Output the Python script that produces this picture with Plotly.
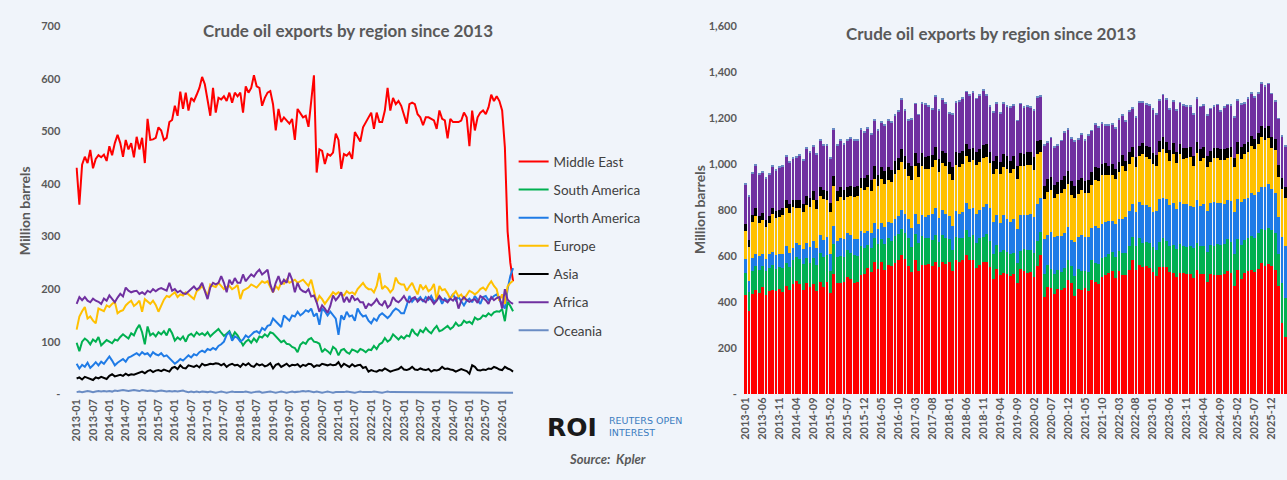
import plotly.graph_objects as go

# ---------------- data ----------------
months = [f"{y}-{m:02d}" for y in range(2013, 2027) for m in range(1, 13)][:161]

middle_east = [
    431, 361, 437, 452, 440, 465, 430, 448, 455, 451, 456, 444,
    472, 455, 478, 494, 478, 452, 484, 466, 478, 451, 490, 466,
    488, 440, 524, 484, 485, 488, 508, 502, 484, 488, 518, 522,
    549, 530, 576, 543, 574, 540, 564, 558, 570, 583, 604, 590,
    560, 530, 583, 536, 564, 561, 567, 558, 574, 555, 574, 567,
    574, 536, 586, 574, 583, 607, 586, 583, 549, 564, 574, 577,
    552, 502, 543, 518, 527, 521, 515, 524, 484, 543, 536, 527,
    530, 509, 558, 607, 422, 466, 463, 438, 457, 454, 460, 496,
    484, 429, 457, 454, 460, 448, 499, 490, 481, 508, 518, 527,
    536, 505, 536, 518, 518, 540, 583, 540, 564, 552, 558, 549,
    533, 515, 552, 555, 552, 533, 527, 512, 527, 527, 524, 521,
    505, 540, 524, 521, 487, 524, 518, 518, 518, 521, 536, 527,
    472, 540, 502, 527, 536, 540, 533, 546, 570, 558, 567, 558,
    540, 470, 310, 250, 215,
]
south_america = [
    98, 82, 100, 106, 102, 95, 104, 100, 109, 93, 98, 103,
    100, 97, 104, 102, 109, 114, 110, 106, 116, 112, 124, 132,
    118, 95, 129, 112, 116, 110, 118, 114, 120, 112, 125, 116,
    102, 108, 104, 110, 100, 112, 115, 110, 118, 113, 116, 112,
    118, 110, 115, 120, 124, 117, 111, 115, 120, 108, 118, 112,
    102, 93, 100, 104, 98, 106, 100, 110, 108, 114, 110, 118,
    116, 110, 105, 99, 102, 96, 95, 90, 88, 80, 94, 99,
    96, 104, 107, 100, 99, 96, 80, 86, 82, 77, 90, 86,
    74, 84, 86, 80, 77, 85, 83, 80, 86, 84, 80, 85,
    84, 92, 86, 95, 98, 107, 100, 104, 114, 108, 104, 110,
    106, 112, 110, 124, 116, 112, 122, 118, 126, 120, 116, 124,
    130, 120, 122, 126, 130, 124, 128, 136, 130, 132, 140, 136,
    138, 134, 146, 142, 144, 150, 148, 154, 150, 156, 158, 157,
    162, 139, 176, 168, 158,
]
north_america = [
    58, 49, 56, 52, 60, 50, 55, 61, 55, 62, 58, 65,
    72, 64, 55, 60, 63, 67, 62, 70, 72, 75, 78, 74,
    80, 76, 78, 72, 80, 76, 74, 78, 72, 74, 68, 62,
    58, 62, 67, 64, 70, 74, 70, 76, 74, 80, 83, 80,
    86, 84, 88, 85, 92, 95, 100, 113, 118, 102, 110, 107,
    100, 104, 112, 108, 113, 118, 120, 116, 126, 122, 130, 132,
    144, 139, 132, 128, 150, 144, 140, 150, 148, 157, 150, 154,
    160, 157, 163, 148, 154, 132, 163, 158, 150, 157, 150, 144,
    113, 150, 142, 157, 148, 150, 140, 163, 154, 148, 150, 140,
    135, 144, 140, 150, 154, 150, 145, 150, 158, 163, 160, 154,
    154, 169, 187, 176, 182, 180, 185, 176, 185, 180, 187, 176,
    180, 185, 172, 182, 178, 182, 191, 179, 185, 176, 169, 178,
    182, 175, 187, 180, 172, 185, 187, 179, 182, 187, 190, 180,
    172, 163, 200, 225, 240,
]
europe = [
    123, 148, 158, 166, 144, 148, 140, 135, 163, 160, 158, 169,
    166, 172, 176, 154, 158, 160, 169, 174, 178, 168, 172, 178,
    157, 181, 176, 172, 178, 170, 157, 169, 180, 187, 185, 190,
    194, 185, 190, 188, 194, 190, 185, 181, 196, 200, 206, 198,
    187, 209, 206, 204, 212, 206, 200, 204, 206, 200, 203, 208,
    181, 197, 200, 203, 209, 206, 203, 209, 215, 212, 215, 204,
    194, 206, 200, 212, 210, 218, 212, 215, 218, 212, 215, 218,
    212, 206, 218, 197, 175, 187, 181, 172, 180, 187, 194, 190,
    194, 190, 188, 196, 192, 194, 190, 200, 206, 212, 204, 200,
    200, 194, 206, 231, 200, 206, 202, 194, 200, 222, 212, 209,
    209, 197, 205, 212, 200, 190, 209, 200, 206, 196, 200, 210,
    178, 206, 198, 200, 192, 181, 190, 196, 186, 190, 181, 190,
    197, 194, 190, 194, 200, 203, 198, 208, 215, 206, 200, 178,
    190, 172, 205, 212, 216,
]
asia = [
    30, 32, 28, 33, 31, 29, 27, 32, 30, 33, 31, 29,
    35, 38, 34, 36, 37, 35, 39, 36, 38, 37, 39, 40,
    43, 40, 44, 46, 42, 45, 46, 44, 47, 45, 43, 50,
    52, 48, 55, 50, 49, 55, 53, 52, 55, 51, 58, 55,
    56, 58, 57, 59, 58, 55, 58, 52, 56, 58, 55, 56,
    52, 58, 55, 59, 54, 52, 58, 55, 57, 53, 55, 59,
    49, 56, 58, 52, 55, 58, 53, 56, 55, 57, 52, 56,
    54, 58, 57, 52, 55, 54, 58, 56, 55, 57, 55, 56,
    61, 52, 58, 55, 52, 57, 53, 55, 56, 50, 52, 43,
    46, 44, 43, 46, 45, 49, 46, 43, 45, 46, 48, 52,
    47, 46, 48, 52, 47, 46, 49, 47, 46, 48, 43, 46,
    45, 47, 52, 48, 49, 47, 46, 43, 46, 48, 46, 44,
    39, 55, 52, 46, 45, 47, 46, 49, 48, 52, 50, 47,
    46, 52, 49, 47, 43,
]
africa = [
    172, 185, 179, 185, 178, 175, 182, 178, 176, 172, 182, 178,
    188, 182, 175, 184, 191, 186, 203, 197, 194, 196, 197, 191,
    194, 190, 197, 194, 200, 196, 200, 202, 200, 197, 212, 197,
    200, 194, 197, 192, 191, 196, 200, 205, 199, 203, 212, 197,
    181, 203, 212, 209, 212, 225, 212, 194, 218, 209, 221, 212,
    212, 228, 215, 222, 228, 224, 232, 237, 228, 232, 237, 209,
    194, 212, 225, 209, 218, 212, 231, 218, 194, 212, 200, 196,
    194, 200, 186, 188, 175, 157, 169, 163, 155, 168, 188, 179,
    185, 194, 175, 185, 175, 188, 179, 182, 175, 175, 163, 172,
    169, 174, 181, 172, 169, 178, 165, 170, 185, 178, 175, 180,
    187, 178, 175, 182, 185, 176, 181, 179, 175, 185, 180, 172,
    178, 187, 180, 179, 175, 182, 178, 185, 163, 178, 185, 179,
    176, 179, 181, 174, 187, 183, 179, 172, 185, 179, 183, 185,
    163, 200, 180, 175, 172,
]
oceania = [
    4, 5, 4, 5, 6, 5, 4, 5, 6, 5, 6, 5,
    6, 5, 7, 6, 7, 8, 7, 6, 7, 8, 7, 6,
    8, 7, 6, 7, 6, 5, 6, 7, 6, 5, 6, 5,
    6, 5, 6, 7, 5, 4, 5, 4, 5, 4, 5, 4,
    4, 5, 4, 3, 4, 5, 4, 3, 4, 5, 4, 4,
    3, 4, 5, 4, 3, 4, 4, 5, 3, 4, 4, 5,
    4, 3, 4, 5, 4, 3, 4, 5, 4, 4, 5, 6,
    5, 6, 5, 4, 5, 4, 3, 4, 5, 4, 3, 4,
    4, 3, 4, 5, 4, 4, 3, 4, 5, 4, 4, 3,
    4, 5, 4, 4, 3, 4, 5, 4, 4, 3, 4, 4,
    3, 4, 4, 3, 4, 3, 4, 4, 3, 4, 3, 3,
    4, 3, 3, 4, 3, 3, 4, 3, 3, 4, 3, 3,
    3, 3, 4, 3, 3, 4, 3, 3, 4, 3, 3, 3,
    3, 3, 3, 3, 3,
]

series_names = ["Middle East", "South America", "North America", "Europe",
                "Asia", "Africa", "Oceania"]
series_values = [middle_east, south_america, north_america, europe,
                 asia, africa, oceania]
series_colors = ["#FF0000", "#00B050", "#1F7BE6", "#FFC000",
                 "#000000", "#7030A0", "#6A8CC4"]

left_xticks = months[::6]
right_xticks = months[::5]
left_yticks = [0, 100, 200, 300, 400, 500, 600, 700]
left_yticktext = ["-", "100", "200", "300", "400", "500", "600", "700"]
right_yticks = [0, 200, 400, 600, 800, 1000, 1200, 1400, 1600]
right_yticktext = ["-", "200", "400", "600", "800", "1,000", "1,200", "1,400", "1,600"]

title_text = "Crude oil exports by region since 2013"

for v in series_values:
    assert len(v) == len(months)

# ---------------- figure ----------------
W, H = 1287, 480
BG = "#F0F4FA"
FONT = "Lato, 'Open Sans', sans-serif"
GREY = "#595959"

fig = go.Figure()

for i, (name, vals, col) in enumerate(zip(series_names, series_values, series_colors)):
    fig.add_trace(go.Scatter(
        x=months, y=vals, name=name, mode="lines",
        line=dict(color=col, width=2), legendgroup=f"g{i}",
        xaxis="x", yaxis="y"))

for i, (name, vals, col) in enumerate(zip(series_names, series_values, series_colors)):
    fig.add_trace(go.Bar(
        x=months, y=vals, name=name, marker=dict(color=col, line=dict(width=0)),
        legendgroup=f"g{i}", showlegend=False, xaxis="x2", yaxis="y2"))

px_unit_left = 378 / 700
y_bottom_left = (H - (398 + 3 * px_unit_left)) / H
y_top = (H - 20) / H
y_bottom_right = (H - 398) / H

tickfont = dict(family=FONT, size=11, color=GREY, weight="bold")

fig.update_layout(
    width=W, height=H, autosize=False,
    margin=dict(l=0, r=0, t=0, b=0),
    paper_bgcolor=BG, plot_bgcolor=BG,
    barmode="stack", bargap=0.18,
    font=dict(family=FONT, color=GREY),
    showlegend=True,
    legend=dict(x=510 / W, y=1 - 143 / H, xanchor="left", yanchor="top",
                bgcolor="rgba(0,0,0,0)", itemwidth=30, tracegroupgap=7.6,
                font=dict(family=FONT, size=13.5, color="#404040")),
    xaxis=dict(domain=[69.6 / W, 510.8 / W], type="category",
               range=[-0.5, 160.5], tickmode="array", tickvals=left_xticks,
               tickangle=-90, showgrid=False, zeroline=False, showline=False,
               ticks="", tickfont=tickfont, anchor="y", fixedrange=True),
    yaxis=dict(domain=[y_bottom_left, y_top], range=[-3, 700],
               tickmode="array", tickvals=left_yticks, ticktext=left_yticktext,
               showgrid=False, zeroline=False, showline=False, ticks="",
               ticklabelstandoff=14, tickfont=tickfont, anchor="x"),
    xaxis2=dict(domain=[741.3 / W, 1.0], type="category",
                range=[-0.5, 159.5], tickmode="array", tickvals=right_xticks,
                tickangle=-90, showgrid=False, zeroline=False, showline=False,
                ticks="", tickfont=tickfont, anchor="y2"),
    yaxis2=dict(domain=[y_bottom_right, y_top], range=[0, 1600],
                tickmode="array", tickvals=right_yticks, ticktext=right_yticktext,
                showgrid=False, zeroline=False, showline=False, ticks="",
                ticklabelstandoff=6, tickfont=tickfont, anchor="x2"),
)


def note(text, x, y, size, **kw):
    font = dict(family=kw.pop("family", FONT), size=size,
                color=kw.pop("color", GREY), weight=kw.pop("weight", "normal"))
    d = dict(text=text, x=x / W, y=1 - y / H, xref="paper", yref="paper",
             xanchor=kw.pop("xanchor", "center"), yanchor="middle",
             showarrow=False, font=font)
    d.update(kw)
    return d


ann = [
    note(title_text, 344, 24, 17, weight="bold"),
    note(title_text, 990, 27, 17, weight="bold"),
    note("Million barrels", 18, 209, 14, weight="bold", textangle=-90),
    note("Million barrels", 697, 208, 14, weight="bold", textangle=-90),
    note("<b>ROI</b>", 569, 432, 25, family="'DejaVu Sans', sans-serif", color="#1a1a1a"),
    note("REUTERS OPEN<br>INTEREST", 604, 431, 9.5, family="'DejaVu Sans', sans-serif",
         color="#3B7CC0", xanchor="left", align="left"),
    note("<i>Source:&nbsp; Kpler</i>", 604, 465, 13, weight="bold"),
]
fig.update_layout(annotations=ann)

fig.write_html("out.html",
               config={"displayModeBar": False},
               post_script="document.body.style.margin='0';"
                           "document.body.style.overflow='hidden';")
